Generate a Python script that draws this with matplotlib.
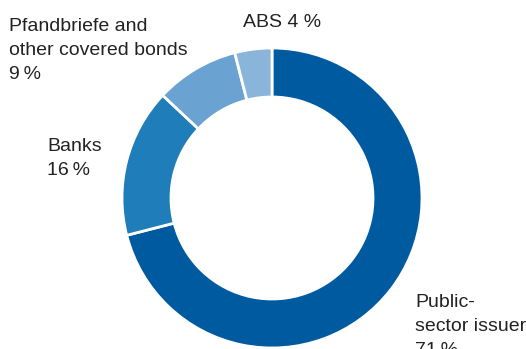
import matplotlib as mpl
import matplotlib.pyplot as plt

mpl.rcParams.update({
    "font.family": ["Liberation Sans", "DejaVu Sans"],
    "font.size": 14,
})

# data
segments = ["Public-sector issuer", "Banks", "Pfandbriefe and other covered bonds", "ABS"]
shares = [71, 16, 9, 4]
colors = ["#005aa0", "#1f7db9", "#6aa3d1", "#8ab5db"]
label_lines = [["Public-", "sector issuer", "71\u2009%"],
               ["Banks", "16\u2009%"],
               ["Pfandbriefe and", "other covered bonds", "9\u2009%"],
               ["ABS 4 %"]]
# label anchor positions in pixels (x, first baseline y)
label_pos = [(415, 307), (47, 151), (9, 31), (243, 27)]
line_step = 24

W, H = 526, 349
fig = plt.figure(figsize=(W / 100, H / 100), dpi=100)
ax = fig.add_axes([0, 0, 1, 1])

ax.pie(shares, colors=colors, startangle=90, counterclock=False,
       center=(272, H - 198), radius=150,
       wedgeprops=dict(width=49, edgecolor="white", linewidth=2))

for lines, (x, y) in zip(label_lines, label_pos):
    for i, line in enumerate(lines):
        ax.text(x, H - (y + i * line_step), line, ha="left", va="baseline",
                color="#222222")

ax.set_xlim(0, W)
ax.set_ylim(0, H)
ax.set_aspect("equal")
ax.axis("off")

fig.savefig("out.png", dpi=100)
